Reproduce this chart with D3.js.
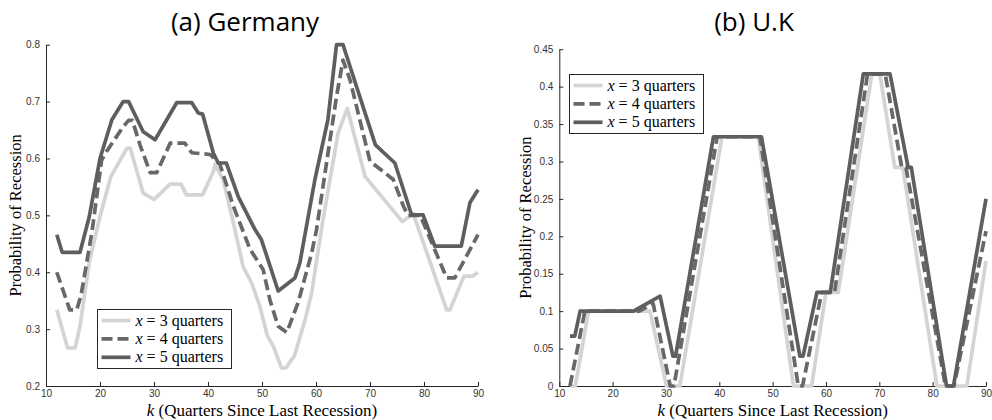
<!DOCTYPE html>
<html>
<head>
<meta charset="utf-8">
<script src="https://cdn.jsdelivr.net/npm/d3@7"></script>
<style>
  body { margin: 0; background: #fff; }
  svg { display: block; }
</style>
</head>
<body>
<script>
// Germany (k = quarters since last recession)
var gerK3 = [12, 14, 15.4, 16.3, 18, 20, 22, 25, 25.6, 28, 30, 33, 35, 36, 39, 41, 41.3, 42.8, 44.7, 46.5, 48.1, 49.6, 51, 52.1, 53.6, 54.4, 56, 58, 59.2, 61.2, 64.1, 65.8, 69.1, 76, 78, 84.2, 84.8, 87.4, 89, 90];
var gerV3 = [0.334, 0.267, 0.267, 0.305, 0.417, 0.498, 0.568, 0.618, 0.618, 0.539, 0.528, 0.555, 0.555, 0.536, 0.536, 0.577, 0.59, 0.563, 0.487, 0.41, 0.381, 0.34, 0.288, 0.27, 0.232, 0.232, 0.253, 0.317, 0.364, 0.487, 0.645, 0.688, 0.568, 0.489, 0.503, 0.334, 0.334, 0.393, 0.393, 0.40];
var gerK4 = [12, 14.4, 15.7, 16.5, 18.5, 20.3, 21.2, 24.3, 25.3, 26, 27.4, 29.3, 30.5, 33, 35.7, 37, 40.4, 42.2, 44.7, 47.8, 50.2, 51.5, 53, 54.6, 56.7, 59.2, 60.1, 63.8, 65, 66.3, 70, 74.3, 76.2, 77, 79.3, 84.2, 85.7, 90];
var gerV4 = [0.40, 0.334, 0.334, 0.36, 0.47, 0.597, 0.612, 0.656, 0.667, 0.667, 0.624, 0.575, 0.575, 0.627, 0.627, 0.61, 0.607, 0.59, 0.516, 0.44, 0.405, 0.35, 0.305, 0.294, 0.347, 0.434, 0.475, 0.709, 0.773, 0.738, 0.595, 0.563, 0.516, 0.50, 0.50, 0.39, 0.39, 0.466];
var gerK5 = [12, 13, 16.3, 18, 20, 22.2, 24.3, 25.3, 28, 30.2, 34.2, 37, 38.2, 39, 41, 41.9, 43.4, 44.7, 45.6, 48.7, 49.9, 53, 56.1, 57, 59.8, 62.2, 63.8, 65, 71, 74.6, 77.7, 79.8, 82, 86.9, 88.5, 90];
var gerV5 = [0.466, 0.435, 0.435, 0.497, 0.60, 0.668, 0.70, 0.70, 0.647, 0.633, 0.698, 0.698, 0.68, 0.678, 0.609, 0.592, 0.592, 0.557, 0.533, 0.475, 0.457, 0.367, 0.39, 0.416, 0.563, 0.668, 0.80, 0.80, 0.624, 0.592, 0.501, 0.501, 0.446, 0.446, 0.522, 0.545];

// U.K
var ukK3 = [12, 13, 15.5, 27, 30.1, 32.6, 40.5, 47.3, 53.9, 57.3, 60, 62.3, 68.6, 70.1, 72.9, 74.4, 80.8, 86.4, 90];
var ukV3 = [0, 0, 0.1, 0.1, 0, 0, 0.333, 0.333, 0, 0, 0.125, 0.125, 0.417, 0.417, 0.292, 0.292, 0, 0, 0.167];
var ukK4 = [12, 14.8, 25, 27.6, 30.8, 31.5, 39.6, 47.6, 54.8, 55.6, 59.2, 61.6, 67.8, 71.1, 74.2, 75, 82.4, 84, 90];
var ukV4 = [0, 0.1, 0.1, 0.11, 0, 0, 0.333, 0.333, 0, 0, 0.125, 0.125, 0.417, 0.417, 0.292, 0.292, 0, 0, 0.207];
var ukK5 = [12, 12.9, 13.9, 23.9, 28.9, 31.3, 31.8, 38.9, 47.9, 55.1, 55.7, 58.3, 60.8, 67, 72, 75.4, 76, 82.6, 83.9, 90];
var ukV5 = [0.0667, 0.0667, 0.1, 0.1, 0.12, 0.04, 0.04, 0.333, 0.333, 0.04, 0.04, 0.125, 0.125, 0.417, 0.417, 0.292, 0.292, 0, 0, 0.25];

var xTicks = [10, 20, 30, 40, 50, 60, 70, 80, 90];
var gerYTicks = [0.2, 0.3, 0.4, 0.5, 0.6, 0.7, 0.8];
var ukYTicks = [0, 0.05, 0.1, 0.15, 0.2, 0.25, 0.3, 0.35, 0.4, 0.45];
var legendNums = ["3", "4", "5"];

var lineStyles = [
    {color: "#d4d4d4", dash: null},
    {color: "#686868", dash: "11,5"},
    {color: "#5e5e5e", dash: null}
];

var svg = d3.select("body").append("svg")
    .attr("width", 992)
    .attr("height", 420);

function drawPanel(p) {
    var x = d3.scaleLinear().domain([10, 90]).range([p.left, p.right]);
    var y = d3.scaleLinear().domain(p.yDomain).range([p.bottom, p.top]);
    var g = svg.append("g");

    // axes, ticks pointing inward like matlab
    var xAxis = g.append("g")
        .attr("transform", "translate(0," + p.bottom + ")")
        .call(d3.axisBottom(x).tickValues(xTicks).tickSize(-4).tickSizeOuter(0).tickPadding(4));
    var yAxis = g.append("g")
        .attr("transform", "translate(" + p.left + ",0)")
        .call(d3.axisLeft(y).tickValues(p.yTicks).tickSize(-4).tickSizeOuter(0).tickPadding(6)
            .tickFormat(function(d) { return d3.format("~g")(+d.toFixed(2)); }));
    [xAxis, yAxis].forEach(function(a) {
        a.select(".domain").attr("stroke", "#262626");
        a.selectAll(".tick line").attr("stroke", "#262626");
        a.selectAll(".tick text")
            .attr("fill", "#333")
            .style("font-family", "'Liberation Sans', Arial, sans-serif")
            .style("font-size", "10px");
    });

    var line = d3.line()
        .x(function(d) { return x(d[0]); })
        .y(function(d) { return y(d[1]); });

    p.series.forEach(function(s, i) {
        var pts = s.k.map(function(k, j) { return [k, s.v[j]]; });
        g.append("path")
            .attr("d", line(pts))
            .attr("fill", "none")
            .attr("stroke", lineStyles[i].color)
            .attr("stroke-width", 3.7)
            .attr("stroke-linejoin", "round")
            .attr("stroke-dasharray", lineStyles[i].dash);
    });

    // title
    g.append("text")
        .attr("x", p.titleX)
        .attr("y", 31)
        .attr("text-anchor", "middle")
        .style("font-family", "'Open Sans', sans-serif")
        .style("font-size", "26px")
        .text(p.title);

    // y label
    g.append("text")
        .attr("transform", "translate(" + p.yLabelX + "," + ((p.top + p.bottom) / 2) + ") rotate(-90)")
        .attr("text-anchor", "middle")
        .style("font-family", "'Liberation Serif', serif")
        .style("font-size", "16.5px")
        .text("Probability of Recession");

    // x label
    var xl = g.append("text")
        .attr("x", (p.left + p.right) / 2)
        .attr("y", 416)
        .attr("text-anchor", "middle")
        .style("font-family", "'Liberation Serif', serif")
        .style("font-size", "17px");
    xl.append("tspan").style("font-style", "italic").text("k");
    xl.append("tspan").text(" (Quarters Since Last Recession)");

    // legend
    var lg = g.append("g").attr("transform", "translate(" + p.legX + "," + p.legY + ")");
    lg.append("rect")
        .attr("width", 134)
        .attr("height", 59)
        .attr("fill", "#fff")
        .attr("stroke", "#262626")
        .attr("stroke-width", 1);
    legendNums.forEach(function(n, i) {
        var ry = 11 + i * 18.4;
        lg.append("line")
            .attr("x1", 4).attr("x2", 33)
            .attr("y1", ry).attr("y2", ry)
            .attr("stroke", lineStyles[i].color)
            .attr("stroke-width", 3.7)
            .attr("stroke-dasharray", lineStyles[i].dash);
        var t = lg.append("text")
            .attr("x", 38)
            .attr("y", ry + 5)
            .style("font-family", "'Liberation Serif', serif")
            .style("font-size", "16px");
        t.append("tspan").style("font-style", "italic").text("x");
        t.append("tspan").text(" = " + n + " quarters");
    });
}

drawPanel({
    title: "(a) Germany", titleX: 245,
    left: 46, right: 478, top: 44.7, bottom: 386,
    yDomain: [0.2, 0.8], yTicks: gerYTicks, yLabelX: 21,
    legX: 97.5, legY: 309.5,
    series: [{k: gerK3, v: gerV3}, {k: gerK4, v: gerV4}, {k: gerK5, v: gerV5}]
});

drawPanel({
    title: "(b) U.K", titleX: 754,
    left: 559.3, right: 986, top: 49.2, bottom: 386,
    yDomain: [0, 0.45], yTicks: ukYTicks, yLabelX: 531,
    legX: 569.5, legY: 74.5,
    series: [{k: ukK3, v: ukV3}, {k: ukK4, v: ukV4}, {k: ukK5, v: ukV5}]
});
</script>
</body>
</html>
